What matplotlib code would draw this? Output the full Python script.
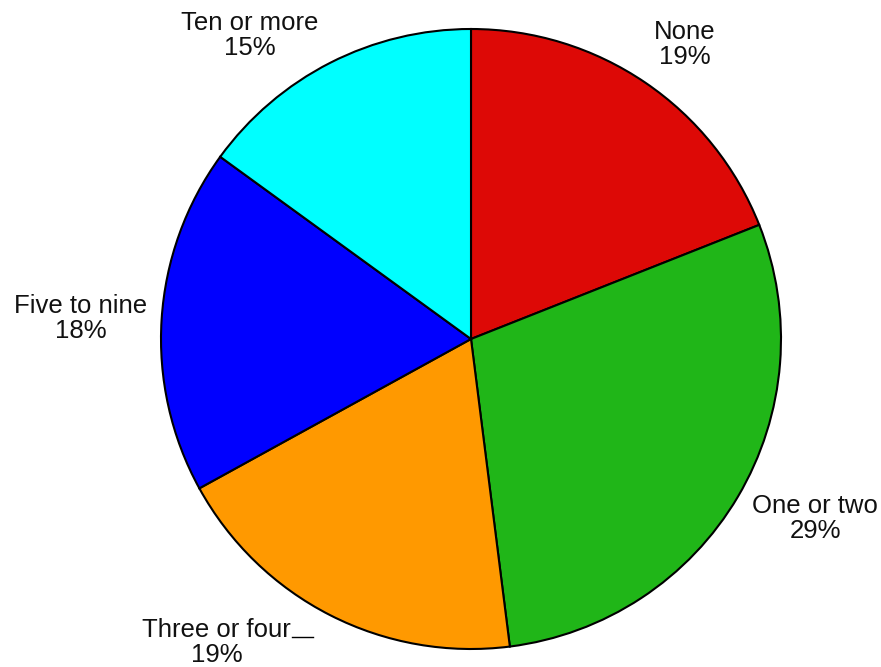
import matplotlib.pyplot as plt
import numpy as np

plt.rcParams['font.family'] = ['Liberation Sans', 'DejaVu Sans']

# survey answers, clockwise from 12 o'clock
categories = ["None", "One or two", "Three or four", "Five to nine", "Ten or more"]
shares = [19, 29, 19, 18, 15]
colors = ["#DD0906", "#20B618", "#FF9900", "#0000FF", "#00FFFF"]

# label centre positions, in units of the pie radius
label_pos = [(0.69, 0.95), (1.11, -0.58), (-0.82, -0.98), (-1.26, 0.065), (-0.715, 0.98)]

W, H = 881, 667
R = 310.0          # pie radius in pixels
cx, cy = 471, 339  # centre in pixels from top-left

fig = plt.figure(figsize=(W / 100, H / 100), dpi=100)
ax = fig.add_axes([0, 0, 1, 1])

ax.pie(shares, colors=colors, startangle=90, counterclock=False, radius=1.0,
       wedgeprops=dict(edgecolor='black', linewidth=1.5))

# pie() resets the limits, so fix them afterwards
ax.set_xlim(-cx / R, (W - cx) / R)
ax.set_ylim(-(H - cy) / R, cy / R)
ax.set_aspect('equal')
ax.axis('off')

for name, val, (x, y) in zip(categories, shares, label_pos):
    ax.text(x, y, f"{name}\n{val}%", ha='center', va='center', fontsize=18.5,
            linespacing=1.05, color='#111111')

# short leader next to "Three or four"
ax.plot([(292 - cx) / R, (313 - cx) / R], [-(637 - cy) / R] * 2, color='black', lw=1)

fig.savefig("out.png", dpi=100)
